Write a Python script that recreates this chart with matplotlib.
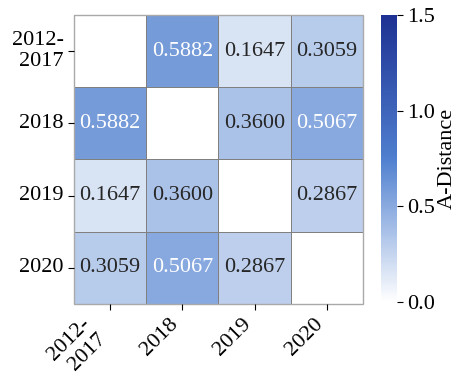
import numpy as np
import matplotlib
matplotlib.use("Agg")
import matplotlib.pyplot as plt
import seaborn as sns
from matplotlib.colors import LinearSegmentedColormap

# 各期間の A-Distance
labels = ["2012-\n2017", "2018", "2019", "2020"]
a_dist = np.array([
    [0.0, 0.5882, 0.1647, 0.3059],
    [0.5882, 0.0, 0.3600, 0.5067],
    [0.1647, 0.3600, 0.0, 0.2867],
    [0.3059, 0.5067, 0.2867, 0.0],
])

plt.rcParams['font.family'] = ['Liberation Serif', 'DejaVu Serif']
plt.rcParams['font.size'] = 16

cmap = LinearSegmentedColormap.from_list("ad", ["#ffffff", "#4f7fcf", "#1d3192"])
mask = np.eye(len(labels), dtype=bool)

fig = plt.figure(figsize=(4.56, 3.72), dpi=100)
ax = fig.add_axes([0.162, 0.183, 0.634, 0.777])
cax = fig.add_axes([0.8355, 0.188, 0.035, 0.772])

sns.heatmap(a_dist, mask=mask, cmap=cmap, vmin=0, vmax=1.5,
            annot=True, fmt=".4f", annot_kws={"size": 16},
            linewidths=0.6, linecolor="gray",
            xticklabels=labels, yticklabels=labels,
            ax=ax, cbar_ax=cax, cbar_kws={"ticks": [0, 0.5, 1.0, 1.5]})

# 対角セルの枠線
for i in range(len(labels)):
    ax.add_patch(plt.Rectangle((i, i), 1, 1, fill=False, edgecolor="gray", lw=0.6))
ax.add_patch(plt.Rectangle((0, 0), 4, 4, fill=False, edgecolor="darkgray", lw=1.0, clip_on=False))

ax.set_xticklabels(labels, rotation=45, ha="right")
ax.set_yticklabels(labels, rotation=0, ha="right")
ax.tick_params(length=4, labelsize=16)

cax.set_yticklabels(["0.0", "0.5", "1.0", "1.5"])
cax.tick_params(length=4, labelsize=16)
cax.set_ylabel("A-Distance", fontsize=16, labelpad=2)

plt.savefig("out.png", dpi=100)
